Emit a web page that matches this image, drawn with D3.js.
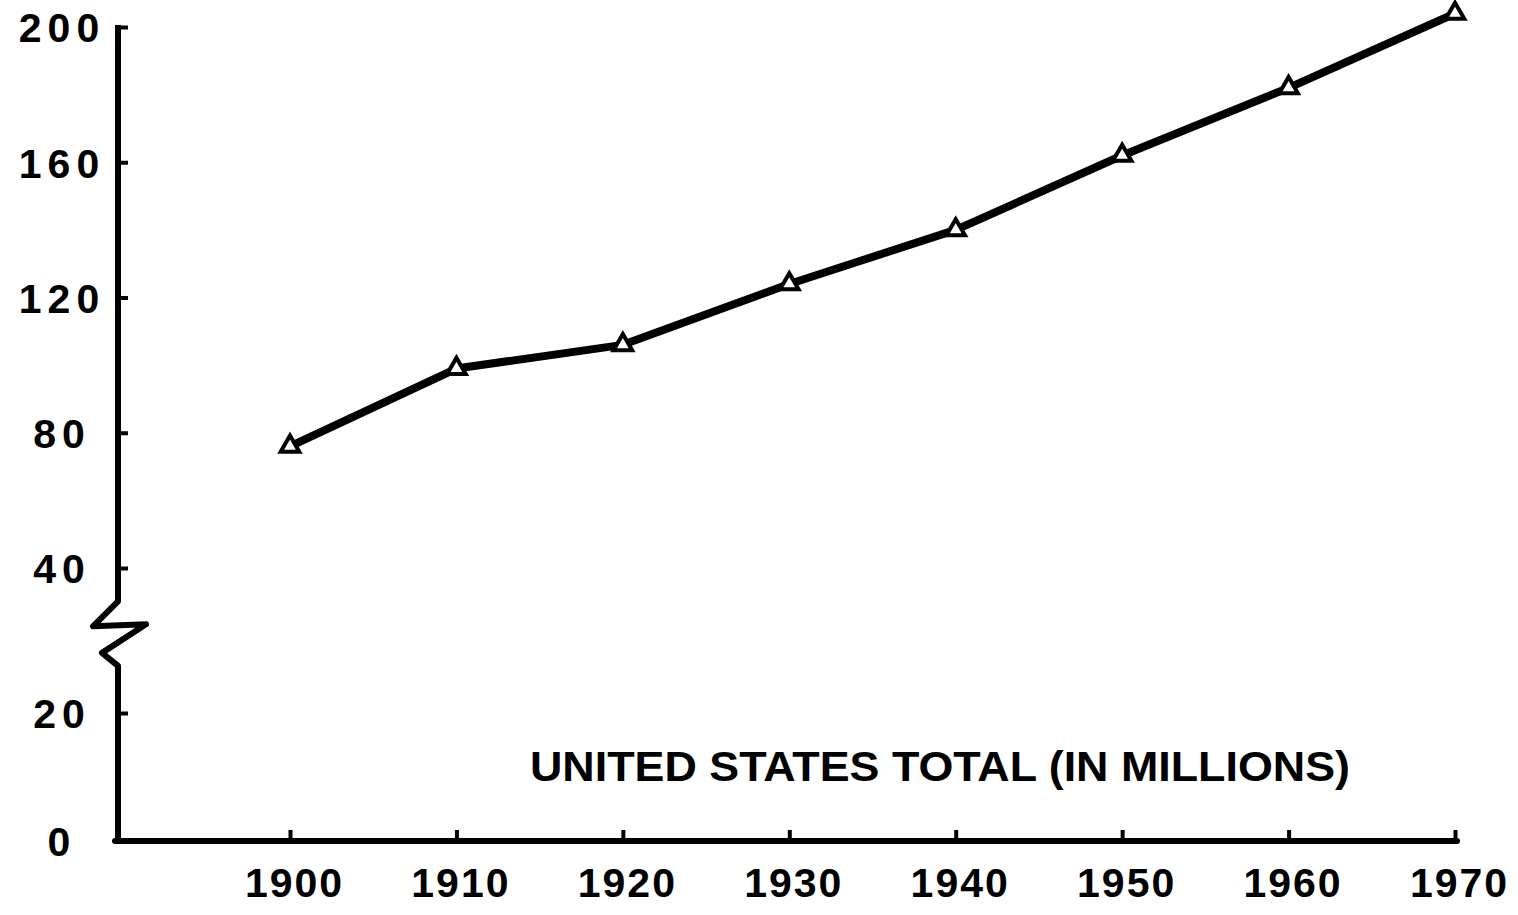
<!DOCTYPE html>
<html>
<head>
<meta charset="utf-8">
<script src="https://cdn.jsdelivr.net/npm/d3@7"></script>
<style>
  body { margin: 0; background: #fff; }
  text { font-family: "Liberation Sans", "DejaVu Sans", sans-serif; font-weight: bold; fill: #000; }
</style>
</head>
<body>
<div id="chart"></div>
<script>
// Values
const years = [1900, 1910, 1920, 1930, 1940, 1950, 1960, 1970];
const population = [76, 99, 106, 124, 140, 162, 182, 204];
const yTicks = [0, 20, 40, 80, 120, 160, 200];
const chartTitle = "UNITED STATES TOTAL (IN MILLIONS)";

let width = 1518, height = 915;
let axisX = 118;

let svg = d3.select("#chart")
    .append("svg")
    .attr("width", width)
    .attr("height", height);

// x scale: one decade ~166px
let x = d3.scaleLinear()
    .domain([1900, 1970])
    .range([290, 1455]);

// broken y axis: 0-20 is stretched below the break
let y = d3.scaleLinear()
    .domain([0, 20, 40, 200])
    .range([841, 713, 568, 27]);

// y axis line with zigzag break
let breakTop = 35.4, breakBottom = 26.5;
let axisPts = [
    [axisX, y(200) - 2],
    [axisX, y(breakTop)],
    [axisX - 25, y(breakTop) + 25],
    [axisX + 28, y(breakTop) + 23],
    [axisX - 16, y(breakBottom) - 13],
    [axisX, y(breakBottom)],
    [axisX, y(0)]
];
svg.append("path")
    .attr("d", d3.line()(axisPts))
    .attr("fill", "none")
    .attr("stroke", "#000")
    .attr("stroke-width", 6)
    .attr("stroke-linejoin", "round");

// x axis base line
svg.append("line")
    .attr("x1", axisX - 3)
    .attr("x2", x(1970) + 2)
    .attr("y1", y(0))
    .attr("y2", y(0))
    .attr("stroke", "#000")
    .attr("stroke-width", 6)
    .attr("stroke-linecap", "round");

// y ticks (pointing inward)
let yAxis = svg.append("g")
    .attr("transform", `translate(${axisX},0)`)
    .call(d3.axisRight(y).tickValues(yTicks).tickSize(10).tickFormat(d3.format("d")));
yAxis.select(".domain").remove();
yAxis.selectAll(".tick line").attr("stroke", "#000").attr("stroke-width", 4);
yAxis.selectAll(".tick line").filter(d => d === 0).remove();
yAxis.selectAll(".tick text")
    .attr("x", 62 - axisX)
    .attr("dy", "0.36em")
    .style("text-anchor", "middle")
    .style("font-size", "41px")
    .style("font-family", null)
    .attr("letter-spacing", 6);

// x ticks (pointing up)
let xAxis = svg.append("g")
    .attr("transform", `translate(0,${y(0)})`)
    .call(d3.axisBottom(x).tickValues(years).tickSize(-11).tickFormat(d3.format("d")));
xAxis.select(".domain").remove();
xAxis.selectAll(".tick line").attr("stroke", "#000").attr("stroke-width", 4);
xAxis.selectAll(".tick text")
    .attr("y", 56)
    .attr("x", 4)
    .attr("dy", 0)
    .style("font-size", "41px")
    .style("font-family", null)
    .attr("letter-spacing", 2);

// population line
let line = d3.line()
    .x((d, i) => x(years[i]))
    .y(d => y(d));

svg.append("path")
    .datum(population)
    .attr("d", line)
    .attr("fill", "none")
    .attr("stroke", "#000")
    .attr("stroke-width", 8)
    .attr("stroke-linejoin", "round");

// open triangle markers
svg.selectAll(".marker")
    .data(population)
    .enter()
    .append("path")
    .attr("class", "marker")
    .attr("transform", (d, i) => `translate(${x(years[i])},${y(d)})`)
    .attr("d", d3.symbol().type(d3.symbolTriangle).size(150))
    .attr("fill", "#fff")
    .attr("stroke", "#000")
    .attr("stroke-width", 4);

// label
svg.append("text")
    .attr("x", 530)
    .attr("y", 781)
    .attr("textLength", 820)
    .attr("lengthAdjust", "spacingAndGlyphs")
    .style("font-size", "42px")
    .text(chartTitle);
</script>
</body>
</html>
